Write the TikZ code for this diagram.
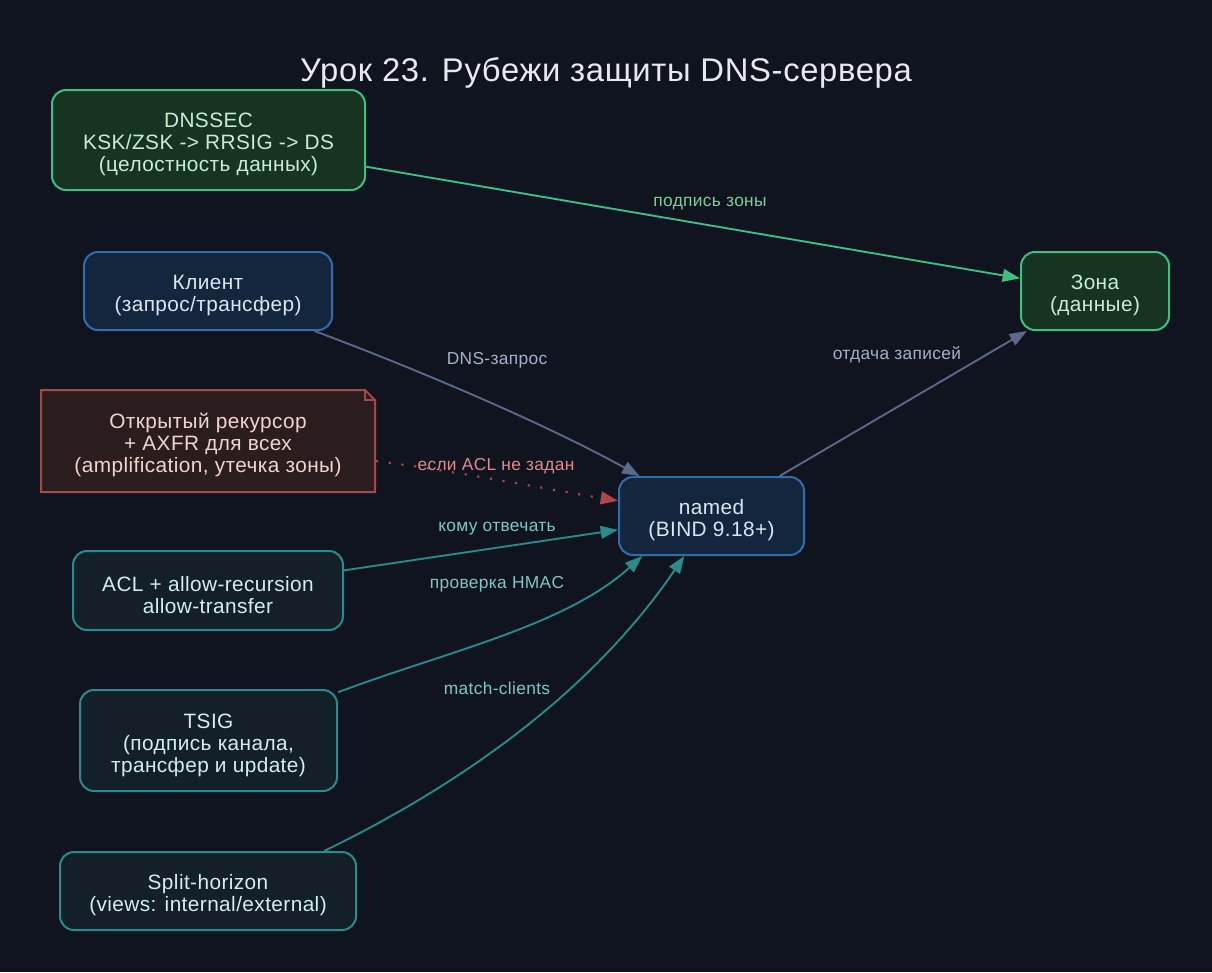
\documentclass[tikz,border=0pt]{standalone}
\usepackage{fontspec}
\setmainfont{Liberation Sans}[LetterSpace=2]
\usetikzlibrary{arrows.meta}
\definecolor{bg}{HTML}{10141F}
\definecolor{gfill}{HTML}{173420}
\definecolor{gline}{HTML}{3FBF80}
\definecolor{gtext}{HTML}{C8EED2}
\definecolor{bfill}{HTML}{13263D}
\definecolor{bline}{HTML}{2E6DB0}
\definecolor{btext}{HTML}{DCE6F2}
\definecolor{rfill}{HTML}{2B1D1E}
\definecolor{rline}{HTML}{A04A4A}
\definecolor{rtext}{HTML}{F0D4D0}
\definecolor{tfill}{HTML}{132028}
\definecolor{tline}{HTML}{2A8C8A}
\definecolor{ttext}{HTML}{D4EEEE}
\definecolor{edgegray}{HTML}{5B6A8B}
\definecolor{lblgray}{HTML}{A3B1C9}
\definecolor{lblgreen}{HTML}{7CCF9B}
\definecolor{lblteal}{HTML}{7FC6C4}
\definecolor{edgered}{HTML}{B04848}
\definecolor{lblred}{HTML}{E08A8A}
\definecolor{titlecol}{HTML}{E6E9EF}
\newcommand{\tstrut}{\rule{0pt}{18pt}}
\tikzset{
  box/.style={rounded corners=10.5pt, line width=1.5pt, align=center, inner sep=0pt,
    font=\fontsize{15.6pt}{16.5pt}\selectfont},
  greenbox/.style={box, draw=gline, fill=gfill, text=gtext},
  bluebox/.style={box, draw=bline, fill=bfill, text=btext},
  tealbox/.style={box, draw=tline, fill=tfill, text=ttext},
  notebox/.style={box, draw=none, fill=none, text=rtext, rounded corners=0pt},
  lbl/.style={font=\fontsize{13pt}{15pt}\selectfont, inner sep=0pt, text height=9.6pt, text depth=2.8pt},
  tip/.style={-{Triangle[length=13pt,width=9.5pt]}},
  edge/.style={line width=1.4pt, tip},
}
\begin{document}
\begin{tikzpicture}[x=0.75pt,y=-0.75pt]
\fill[bg] (0,0) rectangle (1212,972);
\useasboundingbox (0,0) rectangle (1212,972);

\node[text=titlecol, font=\fontsize{24.6pt}{28pt}\selectfont] (title) at (606,73) {Урок 23. Рубежи защиты DNS-сервера};

% note shape
\fill[rfill] (41,390) -- (365,390) -- (375,400) -- (375,492) -- (41,492) -- cycle;
\draw[rline, line width=1.5pt, line join=miter] (41,390) -- (365,390) -- (375,400) -- (375,492) -- (41,492) -- cycle;
\draw[rline, line width=1.2pt] (365,390) -- (365,400) -- (375,400);

\node[greenbox, minimum width=234.75pt, minimum height=75pt] (dnssec) at (208.5,140) {\tstrut DNSSEC\\KSK/ZSK -> RRSIG -> DS\\(целостность данных)};
\node[bluebox, minimum width=186pt, minimum height=58.5pt] (client) at (208,291) {\tstrut Клиент\\(запрос/трансфер)};
\node[notebox, minimum width=250.5pt, minimum height=76.5pt] (note) at (208,441) {\tstrut Открытый рекурсор\\+ AXFR для всех\\(amplification, утечка зоны)};
\node[tealbox, minimum width=202.5pt, minimum height=59.25pt] (acl) at (208,590.5) {\tstrut ACL + allow-recursion\\allow-transfer};
\node[tealbox, minimum width=192.75pt, minimum height=75.75pt] (tsig) at (208.5,740.5) {\tstrut TSIG\\(подпись канала,\\трансфер и update)};
\node[tealbox, minimum width=222pt, minimum height=58.5pt] (split) at (208,891) {\tstrut Split-horizon\\(views: internal/external)};
\node[bluebox, minimum width=138.75pt, minimum height=58.5pt] (named) at (711.5,516) {\tstrut named\\(BIND 9.18+)};
\node[greenbox, minimum width=111pt, minimum height=58.5pt] (zone) at (1095,291) {\tstrut Зона\\(данные)};

% edges
\draw[edge, gline] (dnssec) -- (zone);
\node[lbl, text=lblgreen] (l1) at (710,202) {подпись зоны};

\draw[edge, edgegray] (client) .. controls (432,375) and (553,428) .. (named);
\node[lbl, text=lblgray] (l2) at (497,360) {DNS-запрос};

\draw[edge, edgegray] (named) -- (zone);
\node[lbl, text=lblgray] (l3) at (897,355) {отдача записей};

\draw[edge, edgered, line width=1.6pt, dash pattern=on 1.6pt off 8pt] (note) .. controls (450,470) and (540,488) .. (named);
\node[lbl, text=lblred] (l4) at (496,466) {если ACL не задан};

\draw[edge, tline] (acl) -- (named);
\node[lbl, text=lblteal] (l5) at (497,527) {кому отвечать};

\draw[edge, tline] (tsig) .. controls (448,651) and (565,626) .. (named.210);
\node[lbl, text=lblteal] (l6) at (497,584) {проверка HMAC};

\draw[edge, tline] (split.19) .. controls (470,780) and (595,687) .. (named);
\node[lbl, text=lblteal] (l7) at (497,690) {match-clients};
\end{tikzpicture}
\end{document}
